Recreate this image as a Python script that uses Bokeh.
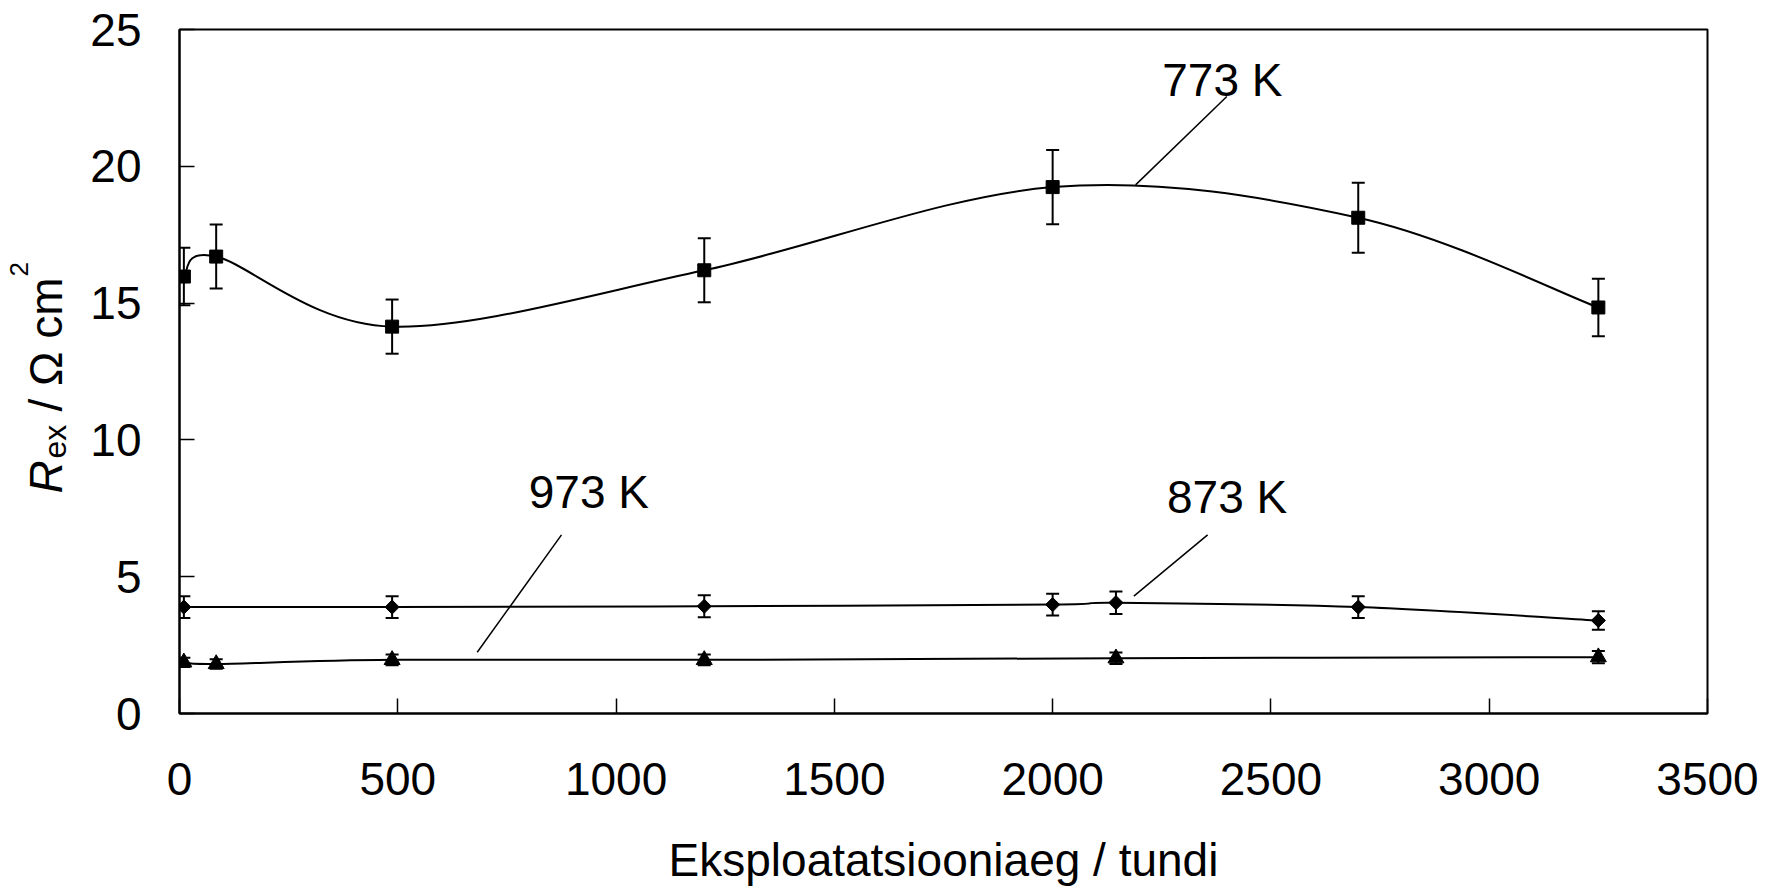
import math

from bokeh.embed import file_html
from bokeh.layouts import row
from bokeh.models import ColumnDataSource, FixedTicker, Label, Range1d, TeeHead, Whisker
from bokeh.plotting import figure
from bokeh.resources import INLINE

# Operating time (h) and external resistance R_ex (Ohm cm^2) with error margins
t_773 = [10, 84, 487, 1202, 2000, 2700, 3250]
r_773 = [15.97, 16.70, 14.14, 16.20, 19.24, 18.12, 14.84]
e_773 = [1.05, 1.17, 0.99, 1.17, 1.36, 1.28, 1.05]

t_873 = [10, 487, 1202, 2000, 2145, 2700, 3250]
r_873 = [3.89, 3.89, 3.92, 3.98, 4.05, 3.89, 3.40]
e_873 = [0.40, 0.40, 0.40, 0.40, 0.41, 0.40, 0.34]

t_973 = [10, 84, 487, 1202, 2145, 3250]
r_973 = [1.87, 1.81, 1.96, 1.96, 2.02, 2.06]
e_973 = [0.17, 0.17, 0.20, 0.20, 0.21, 0.22]

x_ticks = [0, 500, 1000, 1500, 2000, 2500, 3000, 3500]
y_ticks = [0, 5, 10, 15, 20, 25]

series_labels = ["773 K", "873 K", "973 K"]
label_pos = [(2251, 23.16), (2262, 7.90), (800, 8.08)]
leader_lines = [((2190, 19.32), (2399, 22.55)),
                ((2186, 4.29), (2355, 6.53)),
                ((682, 2.24), (875, 6.53))]

FONT = "Liberation Sans"
W, H = 1777, 888
TITLE_W = 85                      # strip on the left holding the vertical axis title
L, R, T, B = 179 - TITLE_W, 70, 29, 175
X0, X1, Y0, Y1 = 0, 3500, 0, 25

p = figure(width=W - TITLE_W, height=H, x_range=Range1d(X0, X1), y_range=Range1d(Y0, Y1),
           output_backend="svg", toolbar_location=None,
           min_border_left=L, min_border_right=R, min_border_top=T, min_border_bottom=B)
p.grid.visible = False
p.background_fill_color = "white"
p.border_fill_color = "white"
p.outline_line_color = "black"
p.outline_line_width = 2
p.outline_line_alpha = 1.0

for ax, ticks in ((p.xaxis, x_ticks), (p.yaxis, y_ticks)):
    ax.ticker = FixedTicker(ticks=ticks)
    ax.major_tick_in = 15
    ax.major_tick_out = 0
    ax.minor_tick_in = 0
    ax.minor_tick_out = 0
    ax.axis_line_width = 2
    ax.axis_line_color = "black"
    ax.major_tick_line_width = 1.5
    ax.major_tick_line_color = "black"
    ax.major_label_text_font = FONT
    ax.major_label_text_font_size = "46px"
    ax.major_label_text_color = "black"

p.xaxis.major_label_standoff = 49
p.yaxis.major_label_standoff = 38
p.xaxis.axis_label = "Eksploatatsiooniaeg / tundi"
p.xaxis.axis_label_text_font = FONT
p.xaxis.axis_label_text_font_size = "46px"
p.xaxis.axis_label_text_font_style = "normal"
p.xaxis.axis_label_text_color = "black"
p.xaxis.axis_label_standoff = 36


def smooth_segments(xs, ys):
    """Cubic Bezier pieces of a Catmull-Rom style smoothed line through the points."""
    n = len(xs)
    segs = dict(x0=[], y0=[], x1=[], y1=[], cx0=[], cy0=[], cx1=[], cy1=[])
    for i in range(n - 1):
        a = max(i - 1, 0)
        d = min(i + 2, n - 1)
        segs["x0"].append(xs[i]); segs["y0"].append(ys[i])
        segs["x1"].append(xs[i + 1]); segs["y1"].append(ys[i + 1])
        segs["cx0"].append(xs[i] + (xs[i + 1] - xs[a]) / 6)
        segs["cy0"].append(ys[i] + (ys[i + 1] - ys[a]) / 6)
        segs["cx1"].append(xs[i + 1] - (xs[d] - xs[i]) / 6)
        segs["cy1"].append(ys[i + 1] - (ys[d] - ys[i]) / 6)
    return segs


series = [
    (t_773, r_773, e_773, dict(marker="square", size=13, angle=0)),
    (t_873, r_873, e_873, dict(marker="square", size=10, angle=math.pi / 4)),
    (t_973, r_973, e_973, dict(marker="triangle", size=16, angle=0)),
]

for xs, ys, es, mk in series:
    p.bezier(source=ColumnDataSource(smooth_segments(xs, ys)),
             x0="x0", y0="y0", x1="x1", y1="y1",
             cx0="cx0", cy0="cy0", cx1="cx1", cy1="cy1",
             line_color="black", line_width=2)
    src = ColumnDataSource(dict(x=xs, y=ys,
                                upper=[v + e for v, e in zip(ys, es)],
                                lower=[v - e for v, e in zip(ys, es)]))
    p.add_layout(Whisker(source=src, base="x", upper="upper", lower="lower",
                         dimension="height", line_color="black", line_width=2,
                         upper_head=TeeHead(size=13, line_width=2, line_color="black"),
                         lower_head=TeeHead(size=13, line_width=2, line_color="black")))
    p.scatter(x="x", y="y", source=src, marker=mk["marker"], size=mk["size"],
              angle=mk["angle"], fill_color="black", line_color="black")

# leader lines and series names
p.segment(x0=[a[0] for a, b in leader_lines], y0=[a[1] for a, b in leader_lines],
          x1=[b[0] for a, b in leader_lines], y1=[b[1] for a, b in leader_lines],
          line_color="black", line_width=1.5)
for txt, (lx, ly) in zip(series_labels, label_pos):
    p.add_layout(Label(x=lx, y=ly, text=txt, text_font=FONT, text_font_size="46px",
                       text_color="black", text_align="left", text_baseline="alphabetic"))

# vertical axis title  R_ex / Ω cm²  assembled from rotated pieces in a narrow strip.
# The strip's frame shares the main plot's top/bottom borders, so its y range is set
# to page pixels (counted from the top) over that same span.
ft = figure(width=TITLE_W, height=H, x_range=Range1d(0, TITLE_W), y_range=Range1d(H - B, T),
            output_backend="svg", toolbar_location=None,
            x_axis_location=None, y_axis_location=None,
            min_border_left=0, min_border_right=0, min_border_top=T, min_border_bottom=B)
ft.grid.visible = False
ft.outline_line_color = None
ft.background_fill_color = "white"
ft.border_fill_color = "white"

base_x = 63 - 18
pieces = [
    ("R", 46, "italic", 0, 493),
    ("ex", 32, "normal", 9, 458),
    ("/ \u03a9 cm", 46, "normal", 0, 411),
    ("2", 26, "normal", -27, 276),
]
for txt, fs, style, dx, py in pieces:
    ft.add_layout(Label(x=base_x + dx, y=py, text=txt, angle=math.pi / 2,
                        text_font=FONT, text_font_size=f"{fs}px", text_font_style=style,
                        text_color="black", text_align="left", text_baseline="alphabetic"))

open("out.html", "w").write(file_html(row(ft, p), INLINE))
